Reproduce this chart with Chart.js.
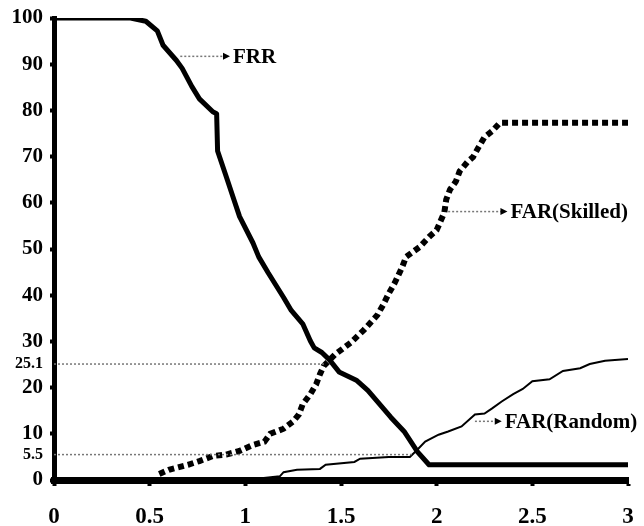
<!DOCTYPE html>
<html>
<head>
<meta charset="utf-8">
<script src="https://cdn.jsdelivr.net/npm/chart.js@4.4.1/dist/chart.umd.min.js"></script>
<style>
  html, body { margin: 0; padding: 0; background: #fff; }
  canvas { display: block; }
</style>
</head>
<body>
<canvas id="chart" width="644" height="526"></canvas>
<script>
// threshold (x) vs error rate (y)
const frrPoints = [
  [0, 100], [0.40, 100], [0.48, 99.3], [0.54, 97.2], [0.57, 94.1], [0.64, 90.8],
  [0.67, 89.1], [0.72, 85.2], [0.76, 82.5], [0.83, 79.7], [0.85, 79.3], [0.855, 71.2],
  [0.9, 65.7], [0.94, 60.7], [0.97, 57], [1.04, 51.3], [1.07, 48.3], [1.12, 44.8],
  [1.2, 39.5], [1.24, 36.7], [1.3, 33.8], [1.34, 30.1], [1.36, 28.6], [1.4, 27.6],
  [1.44, 26], [1.49, 23.4], [1.58, 21.6], [1.64, 19.4], [1.76, 13.6], [1.83, 10.5],
  [1.9, 6.1], [1.96, 3.3], [3, 3.3]
]
const farSkilledPoints = [
  [0.55, 1.3], [0.6, 2.2], [0.7, 3.3], [0.76, 4.1], [0.83, 5.2], [0.9, 5.5],
  [0.97, 6.3], [1.04, 7.6], [1.1, 8.3], [1.13, 10], [1.2, 11.1], [1.25, 12.7],
  [1.28, 14.2], [1.3, 16.4], [1.34, 18.6], [1.37, 20.7], [1.39, 22.9], [1.41, 24.7],
  [1.47, 27.2], [1.55, 29.7], [1.62, 32.5], [1.69, 35.7], [1.72, 37.9], [1.75, 40.4],
  [1.78, 42.6], [1.82, 46.1], [1.84, 48.3], [1.91, 50.4], [1.96, 52.6], [2.0, 54.1],
  [2.04, 57.9], [2.05, 60.7], [2.07, 62.9], [2.1, 64.6], [2.12, 66.8], [2.16, 68.8],
  [2.19, 69.9], [2.22, 72.1], [2.25, 74.2], [2.29, 75.5], [2.33, 77.3], [3, 77.3]
]
const farRandomPoints = [
  [1.0, 0], [1.18, 0.8], [1.2, 1.7], [1.27, 2.2], [1.39, 2.4], [1.42, 3.3],
  [1.57, 3.9], [1.6, 4.6], [1.75, 5.0], [1.86, 5.0], [1.9, 6.6], [1.94, 8.3],
  [2.01, 9.8], [2.06, 10.5], [2.13, 11.6], [2.2, 14.2], [2.25, 14.4], [2.29, 15.5],
  [2.34, 17.0], [2.4, 18.6], [2.45, 19.7], [2.5, 21.4], [2.59, 21.8], [2.66, 23.6],
  [2.75, 24.2], [2.8, 25.1], [2.88, 25.8], [3, 26.2]
]

// equal error rate guides: level and where the curves cross
const eerLevels = [25.1, 5.5]
const eerCrossX = [1.42, 1.87]

const yTicks = [0, 5.5, 10, 20, 25.1, 30, 40, 50, 60, 70, 80, 90, 100]
const smallTicks = [25.1, 5.5]

// callouts: text, arrow start x, arrow end x, y
const callouts = [
  ['FRR', 0.66, 0.92, 91.7],
  ['FAR(Skilled)', 2.06, 2.37, 58.1],
  ['FAR(Random)', 2.2, 2.34, 12.7]
]

const SERIF = "'Liberation Serif', 'Times New Roman', serif"

const toXY = pts => pts.map(p => ({ x: p[0], y: p[1] }))

const guideSets = eerLevels.map((lvl, i) => ({
  data: [{ x: 0, y: lvl }, { x: eerCrossX[i], y: lvl }],
  borderColor: '#777',
  borderWidth: 1.5,
  borderDash: [2, 2],
  pointRadius: 0
}))

const calloutPlugin = {
  id: 'callouts',
  afterDatasetsDraw(chart) {
    const { ctx, scales: { x, y } } = chart
    ctx.save()
    callouts.forEach(([text, x0, x1, yv]) => {
      const px0 = x.getPixelForValue(x0)
      const px1 = x.getPixelForValue(x1)
      const py = y.getPixelForValue(yv)
      ctx.strokeStyle = '#777'
      ctx.lineWidth = 1.5
      ctx.setLineDash([2, 2])
      ctx.beginPath()
      ctx.moveTo(px0, py)
      ctx.lineTo(px1 - 5, py)
      ctx.stroke()
      ctx.setLineDash([])
      ctx.fillStyle = '#000'
      ctx.beginPath()
      ctx.moveTo(px1, py)
      ctx.lineTo(px1 - 7, py - 3.5)
      ctx.lineTo(px1 - 7, py + 3.5)
      ctx.closePath()
      ctx.fill()
      ctx.font = 'bold 21px ' + SERIF
      ctx.textAlign = 'left'
      ctx.textBaseline = 'middle'
      ctx.fillText(text, px1 + 3, py + 1)
    })
    ctx.restore()
  }
}

new Chart(document.getElementById('chart'), {
  type: 'line',
  data: {
    datasets: [
      ...guideSets,
      {
        label: 'FRR',
        data: toXY(frrPoints),
        borderColor: '#000',
        borderWidth: 5,
        pointRadius: 0,
        borderJoinStyle: 'round'
      },
      {
        label: 'FAR(Skilled)',
        data: toXY(farSkilledPoints),
        borderColor: '#000',
        borderWidth: 6,
        borderDash: [6, 4],
        borderCapStyle: 'butt',
        pointRadius: 0
      },
      {
        label: 'FAR(Random)',
        data: toXY(farRandomPoints),
        borderColor: '#000',
        borderWidth: 2,
        pointRadius: 0
      }
    ]
  },
  options: {
    responsive: false,
    animation: false,
    layout: { padding: { top: 18, right: 16, left: 0, bottom: 0 } },
    plugins: {
      legend: { display: false },
      tooltip: { enabled: false }
    },
    scales: {
      x: {
        type: 'linear',
        min: 0,
        max: 3,
        // fixed plot box: 54..628 wide
        afterFit: s => { s.height = 46; s.paddingLeft = 0; s.paddingRight = 0 },
        border: { display: true, color: '#000', width: 7 },
        grid: { drawOnChartArea: false, tickLength: 6, tickWidth: 4, tickColor: '#000' },
        ticks: {
          stepSize: 0.5,
          color: '#000',
          padding: 17,
          maxRotation: 0,
          callback: v => String(v),
          font: { family: SERIF, size: 23, weight: 'bold' }
        }
      },
      y: {
        min: 0,
        max: 100,
        afterFit: s => { s.width = 54; s.paddingTop = 0; s.paddingBottom = 0 },
        afterBuildTicks: s => { s.ticks = yTicks.map(v => ({ value: v })) },
        border: { display: true, color: '#000', width: 5 },
        grid: {
          drawOnChartArea: false,
          tickLength: 4,
          tickWidth: 4,
          tickColor: c => (c.tick && smallTicks.includes(c.tick.value)) ? 'rgba(0,0,0,0)' : '#000'
        },
        ticks: {
          color: '#000',
          padding: 7,
          callback: v => String(v),
          font: c => ({
            family: SERIF,
            weight: 'bold',
            size: (c.tick && smallTicks.includes(c.tick.value)) ? 16 : 21
          })
        }
      }
    }
  },
  plugins: [calloutPlugin]
})
</script>
</body>
</html>
